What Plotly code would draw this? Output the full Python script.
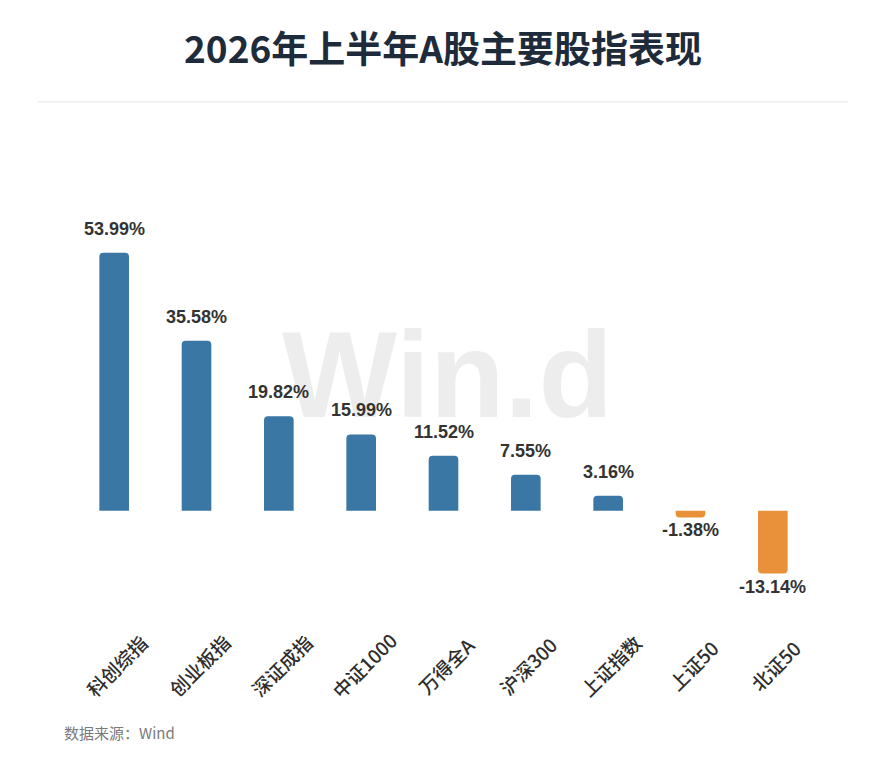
import plotly.graph_objects as go

categories = ["科创综指", "创业板指", "深证成指", "中证1000", "万得全A", "沪深300", "上证指数", "上证50", "北证50"]
returns = [53.99, 35.58, 19.82, 15.99, 11.52, 7.55, 3.16, -1.38, -13.14]
value_labels = ["53.99%", "35.58%", "19.82%", "15.99%", "11.52%", "7.55%", "3.16%", "-1.38%", "-13.14%"]

BLUE = "#3b77a4"
ORANGE = "#e8903a"
colors = [BLUE if v >= 0 else ORANGE for v in returns]

fig = go.Figure()
fig.add_trace(go.Bar(
    x=categories, y=returns, marker=dict(color=colors, line=dict(width=0)),
    hoverinfo="skip", showlegend=False,
))

y_lo, y_hi = -21.8, 79.7

annotations = []
# watermark (center at pixel y 375; zero at 511, 4.78 px/unit)
annotations.append(dict(
    text="<b>Win.d</b>", x=0.5, y=(511 - 375) / 4.78, xref="paper", yref="y", showarrow=False,
    font=dict(family="Liberation Sans, Arial", size=122, color="#ededed"),
    xanchor="center", yanchor="middle", xshift=4,
))
for c, v, t in zip(categories, returns, value_labels):
    annotations.append(dict(
        x=c, y=v, xref="x", yref="y", text="<b>%s</b>" % t, showarrow=False,
        font=dict(family="Liberation Sans, Arial", size=18, color="#333333"),
        xanchor="center", yanchor="bottom" if v >= 0 else "top",
        yshift=12 if v >= 0 else -1,
    ))
for c in categories:
    annotations.append(dict(
        x=c, y=0, xref="x", yref="paper", text=c, showarrow=False, textangle=-45,
        font=dict(family="Noto Sans CJK SC", size=19, color="#2e2e2e", weight=500),
        xanchor="center", yanchor="middle", yshift=-50, xshift=2,
    ))
annotations.append(dict(
    text="数据来源：Wind", x=-0.0148, y=-0.243, xref="paper", yref="paper",
    showarrow=False, xanchor="left", yanchor="middle",
    font=dict(family="Noto Sans CJK SC", size=15, color="#7a7a7a"),
))

fig.update_layout(
    width=886, height=768,
    margin=dict(l=73, r=72, t=130, b=153),
    paper_bgcolor="white", plot_bgcolor="white",
    title=dict(
        text="<b>2026年上半年A股主要股指表现</b>", x=0.5, xref="container",
        y=1 - 50 / 768, yref="container", xanchor="center", yanchor="middle",
        font=dict(family="Noto Sans CJK SC", size=37, color="#1e2b3a"),
    ),
    bargap=0.64, barcornerradius=4,
    xaxis=dict(showticklabels=False, showgrid=False, zeroline=False, showline=False, ticks=""),
    yaxis=dict(range=[y_lo, y_hi], visible=False, showgrid=False, zeroline=False),
    annotations=annotations,
    shapes=[dict(type="line", xref="paper", yref="paper",
                 x0=-0.047, x1=1.046, y0=1.058, y1=1.058,
                 line=dict(color="#eeeeee", width=1.5))],
)

fig.write_html("out.html")
